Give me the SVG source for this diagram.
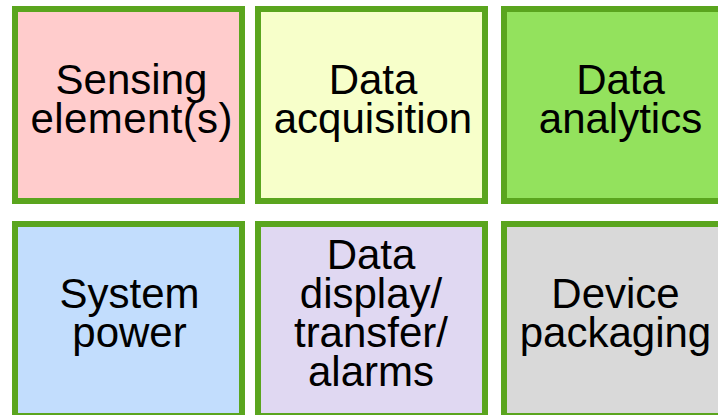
<svg xmlns="http://www.w3.org/2000/svg" width="718" height="415" viewBox="0 0 718 415">
<style>
.box{stroke:#5aa51e;stroke-width:6}
.t{font-family:"Liberation Sans",Arial,sans-serif;font-size:42px;fill:#000;text-anchor:middle}
</style>
<rect width="718" height="415" fill="#ffffff"/>
<g id="sensing">
<rect class="box" x="15" y="9" width="227" height="192" fill="#ffcccc"/>
<text class="t" x="131.5" y="94">Sensing</text>
<text class="t" x="131.5" y="133" textLength="202" lengthAdjust="spacing">element(s)</text>
</g>
<g id="acquisition">
<rect class="box" x="258" y="9" width="227" height="192" fill="#f7ffca"/>
<text class="t" x="373" y="94">Data</text>
<text class="t" x="373" y="133">acquisition</text>
</g>
<g id="analytics">
<rect class="box" x="504" y="9" width="227" height="192" fill="#93e25d"/>
<text class="t" x="620.5" y="94">Data</text>
<text class="t" x="620.5" y="133">analytics</text>
</g>
<g id="power">
<rect class="box" x="15" y="224" width="227" height="192" fill="#c2ddfd"/>
<text class="t" x="129.5" y="307.5">System</text>
<text class="t" x="129.5" y="347">power</text>
</g>
<g id="display">
<rect class="box" x="258" y="224" width="227" height="192" fill="#e0d8f2"/>
<text class="t" x="371" y="268.5">Data</text>
<text class="t" x="371" y="307.5">display/</text>
<text class="t" x="371" y="347">transfer/</text>
<text class="t" x="371" y="386">alarms</text>
</g>
<g id="packaging">
<rect class="box" x="504" y="224" width="227" height="192" fill="#d9d9d9"/>
<text class="t" x="615.5" y="308">Device</text>
<text class="t" x="615.5" y="347">packaging</text>
</g>
<g id="connectors"/>
</svg>
